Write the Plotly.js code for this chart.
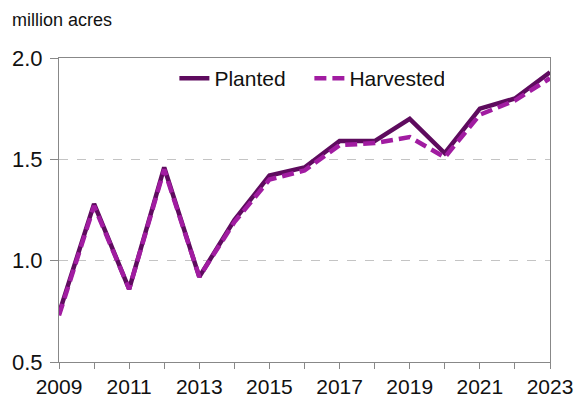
<!DOCTYPE html>
<html>
<head>
<meta charset="utf-8">
<script src="https://cdn.plot.ly/plotly-3.0.1.min.js"></script>
<style>html,body{margin:0;padding:0;background:#fff;}#chart{width:578px;height:398px;}</style>
</head>
<body>
<div id="chart"></div>
<script>
const years = [2009,2010,2011,2012,2013,2014,2015,2016,2017,2018,2019,2020,2021,2022,2023];
const planted = [0.74,1.28,0.86,1.46,0.92,1.20,1.42,1.46,1.59,1.59,1.70,1.53,1.75,1.80,1.93];
const harvested = [0.73,1.27,0.86,1.45,0.92,1.19,1.40,1.445,1.57,1.58,1.61,1.51,1.72,1.79,1.90];
const xTickVals = years;
const xTickText = years.map(y => (y % 2 === 1 ? String(y) : ''));
const yTickVals = [0.5,1.0,1.5,2.0];
const yTickText = ['0.5','1.0','1.5','2.0'];

const fam = 'Liberation Sans, Arial, sans-serif';
const yTickFont = {family: fam, size: 22, color: '#111'};
const xTickFont = {family: fam, size: 21, color: '#111'};
const legendFont = {family: fam, size: 21, color: '#111'};
const titleFont = {family: fam, size: 18, color: '#111'};

const traces = [
  {x: years, y: planted, name: 'Planted', type: 'scatter', mode: 'lines',
   line: {color: '#5e0b5e', width: 4.5}},
  {x: years, y: harvested, name: 'Harvested', type: 'scatter', mode: 'lines',
   line: {color: '#a11ca1', width: 4.5, dash: '12px,6px'}}
];

const layout = {
  width: 578, height: 398,
  margin: {l: 59, r: 28, t: 58, b: 36, pad: 0},
  paper_bgcolor: '#fff', plot_bgcolor: '#fff',
  font: legendFont,
  showlegend: true,
  legend: {orientation: 'h', x: 0.235, xanchor: 'left', y: 1.0, yanchor: 'top',
           font: legendFont, bgcolor: 'rgba(0,0,0,0)', itemwidth: 30, tracegroupgap: 0,
           entrywidth: 90, entrywidthmode: 'pixels'},
  xaxis: {range: [2009, 2023], tickmode: 'array', tickvals: xTickVals, ticktext: xTickText,
          ticks: 'outside', ticklen: 6, tickcolor: '#888', tickwidth: 1,
          showline: true, linecolor: '#888', linewidth: 1, mirror: true,
          showgrid: false, zeroline: false, tickfont: xTickFont, fixedrange: true},
  yaxis: {range: [0.5, 2.0], tickmode: 'array', tickvals: yTickVals, ticktext: yTickText,
          ticks: 'outside', ticklen: 8, tickcolor: '#888', tickwidth: 1,
          showline: true, linecolor: '#888', linewidth: 1, mirror: true,
          showgrid: true, gridcolor: '#c4c4c4', griddash: 'dash', gridwidth: 1,
          zeroline: false, tickfont: yTickFont, ticklabelstandoff: 3, fixedrange: true},
  annotations: [{text: 'million acres', xref: 'paper', yref: 'paper',
                 x: -0.1, xanchor: 'left', y: 1.125, yanchor: 'middle',
                 showarrow: false, font: titleFont}]
};

Plotly.newPlot('chart', traces, layout, {displayModeBar: false, staticPlot: true});
</script>
</body>
</html>
